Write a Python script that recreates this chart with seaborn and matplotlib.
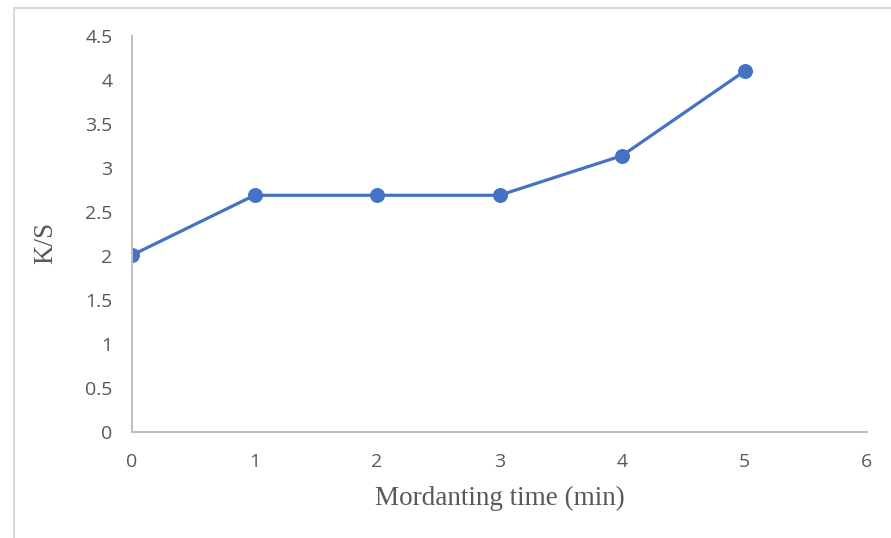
import matplotlib
matplotlib.use("Agg")
import matplotlib.pyplot as plt
import matplotlib.patches as mpatches
import seaborn as sns
import pandas as pd

# Mordanting time (min) vs colour strength K/S
mordanting_time = [0, 1, 2, 3, 4, 5]
ks_values = [2.01, 2.69, 2.69, 2.69, 3.14, 4.10]
x_ticks = [0, 1, 2, 3, 4, 5, 6]
y_ticks = [0, 0.5, 1, 1.5, 2, 2.5, 3, 3.5, 4, 4.5]
y_tick_labels = ["0", "0.5", "1", "1.5", "2", "2.5", "3", "3.5", "4", "4.5"]

sns.set_theme(style="white")

df = pd.DataFrame({"time": mordanting_time, "ks": ks_values})

W, H = 891, 538
fig = plt.figure(figsize=(W / 100, H / 100), dpi=100)
fig.patch.set_facecolor("white")

# chart-area frame
fig.add_artist(mpatches.Rectangle((14 / W, -0.05), 1.0, 1 - 8 / H + 0.05,
                                  transform=fig.transFigure, fill=False,
                                  edgecolor="#D9D9D9", linewidth=1.5))

left, right, bottom, top = 132 / W, 867 / W, 1 - 432 / H, 1 - 36 / H
ax = fig.add_axes([left, bottom, right - left, top - bottom])

line_color = "#4472C4"
sns.lineplot(data=df, x="time", y="ks", ax=ax, color=line_color,
             linewidth=2.3, marker="o", markersize=10,
             markeredgecolor=line_color, markerfacecolor=line_color)

ax.set_xlim(0, 6)
ax.set_ylim(0, 4.5)
ax.set_xticks(x_ticks)
ax.set_yticks(y_ticks)
ax.set_yticklabels(y_tick_labels)

tick_font = dict(family="Open Sans", size=14, color="#595959")
for lbl in ax.get_xticklabels() + ax.get_yticklabels():
    lbl.set_fontfamily(tick_font["family"])
    lbl.set_fontsize(tick_font["size"])
    lbl.set_color(tick_font["color"])

ax.tick_params(axis="x", length=0, pad=15)
ax.tick_params(axis="y", length=0, pad=14)

for side in ["top", "right"]:
    ax.spines[side].set_visible(False)
for side in ["left", "bottom"]:
    ax.spines[side].set_color("#BFBFBF")
    ax.spines[side].set_linewidth(1.5)

ax.grid(False)
ax.set_facecolor("white")

label_font = dict(family="Liberation Serif", size=19.5, color="#595959")
ax.set_xlabel("Mordanting time (min)", fontdict=label_font)
ax.set_ylabel("K/S", fontdict=label_font)
ax.xaxis.set_label_coords(0.5007, -0.137)
ax.yaxis.set_label_coords(-0.10, 0.478)

fig.savefig("out.png", dpi=100, facecolor="white")
